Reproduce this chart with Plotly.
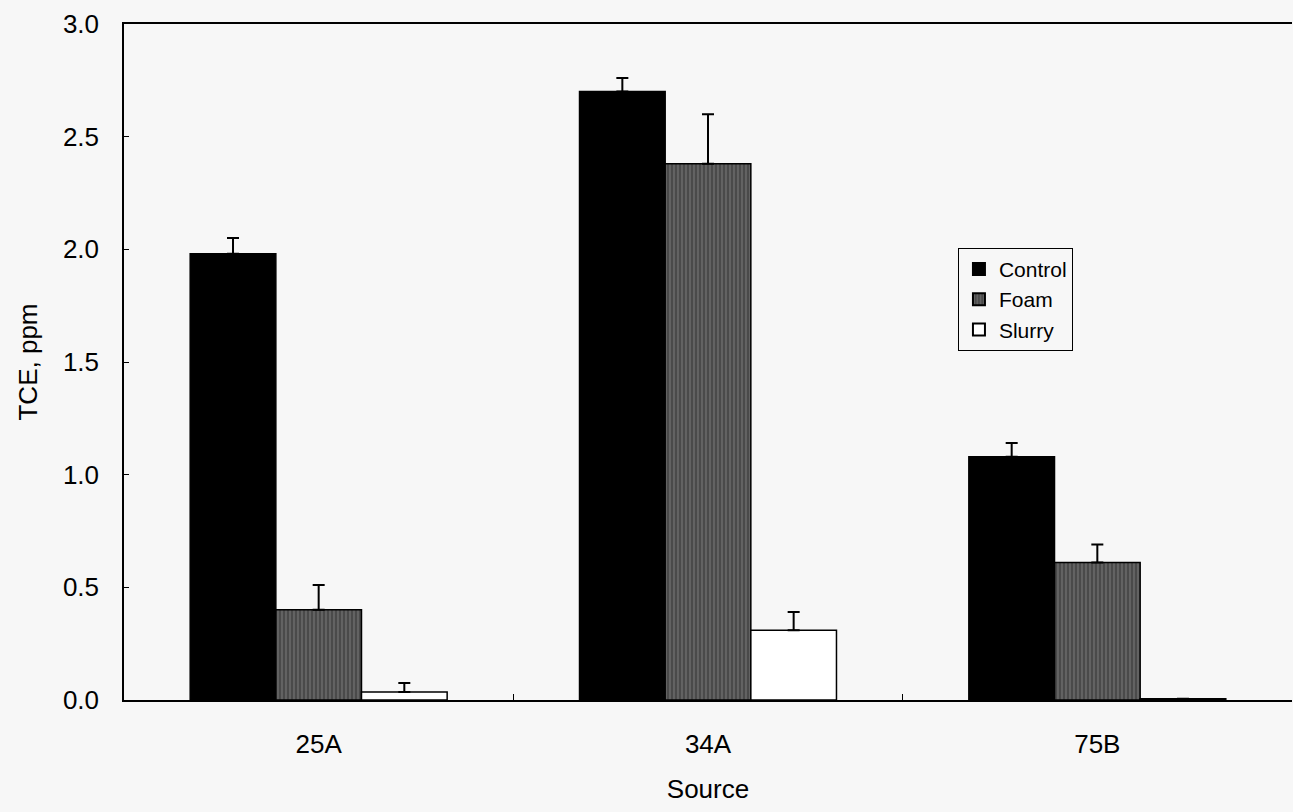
import plotly.graph_objects as go

categories = ["25A", "34A", "75B"]
control = [1.98, 2.70, 1.08]
control_err = [0.07, 0.06, 0.06]
foam = [0.40, 2.38, 0.61]
foam_err = [0.11, 0.22, 0.08]
slurry = [0.035, 0.31, 0.005]
slurry_err = [0.04, 0.08, 0.0]
y_ticks = [0.0, 0.5, 1.0, 1.5, 2.0, 2.5, 3.0]

def err(vals):
    return dict(type="data", array=vals, symmetric=False, arrayminus=[0]*len(vals),
                color="black", thickness=2, width=6)

fig = go.Figure()
fig.add_trace(go.Bar(name="Control", x=categories, y=control, error_y=err(control_err),
                     marker=dict(color="black", line=dict(color="black", width=1.5))))
fig.add_trace(go.Bar(name="Foam", x=categories, y=foam, error_y=err(foam_err),
                     marker=dict(color="#555555", line=dict(color="black", width=1.5),
                                 pattern=dict(shape="|", fgcolor="#9a9a9a", bgcolor="#4a4a4a",
                                              size=4, solidity=0.3))))
fig.add_trace(go.Bar(name="Slurry", x=categories, y=slurry, error_y=err(slurry_err),
                     marker=dict(color="white", line=dict(color="black", width=1.5))))

fam = "Liberation Sans, Arial, sans-serif"
bg = "#f7f7f7"
fig.update_layout(
    width=1293, height=812,
    margin=dict(l=124, r=1, t=24, b=112),
    paper_bgcolor=bg, plot_bgcolor=bg,
    barmode="group", bargap=0.34, bargroupgap=0,
    font=dict(family=fam, size=26, color="black"),
    showlegend=True,
    legend=dict(x=0.714, y=0.669, xanchor="left", yanchor="top",
                bordercolor="black", borderwidth=1, bgcolor=bg,
                font=dict(family=fam, size=21, color="black"),
                itemsizing="constant", tracegroupgap=0, itemwidth=30),
    xaxis=dict(title=dict(text="Source", font=dict(family=fam, size=26), standoff=22),
               tickfont=dict(family=fam, size=26), ticklabelstandoff=20,
               showline=True, linecolor="black",
               linewidth=1.5, mirror=True, ticks="inside", tickson="boundaries",
               ticklen=6, tickcolor="black", showgrid=False),
    yaxis=dict(title=dict(text="TCE, ppm", font=dict(family=fam, size=26), standoff=18),
               tickfont=dict(family=fam, size=26), ticklabelstandoff=18,
               range=[0, 3.0], tickvals=y_ticks,
               tickformat=".1f", showline=True, linecolor="black", linewidth=1.5,
               mirror=False, ticks="inside", ticklen=5, tickcolor="black", showgrid=False,
               zeroline=False),
)
fig.write_html("out.html")
